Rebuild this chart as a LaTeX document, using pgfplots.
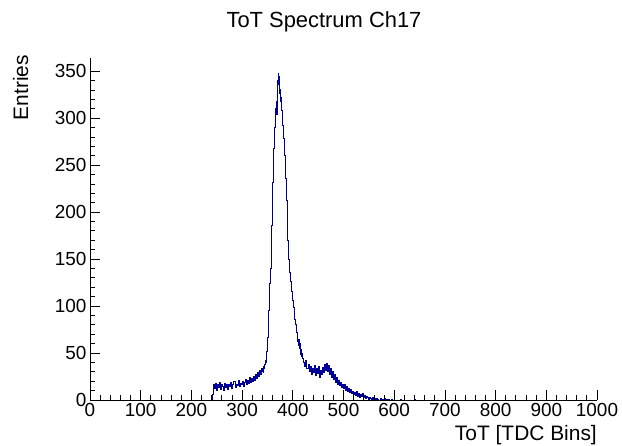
\documentclass[border=0pt]{standalone}
\usepackage{fontspec}
\setmainfont{Liberation Sans}
\usepackage{pgfplots}
\usepackage{pgfplotstable}
\pgfplotsset{compat=1.18}
\definecolor{rootblue}{RGB}{0,0,153}

% ToT histogram (1-bin steps round the peak, 2-bin elsewhere)
\pgfplotstableread{
x y
0 0
240 0
242 6
244 17
246 12
248 18
250 10
252 16
254 13
256 19
258 11
260 17
262 14
264 10
266 18
268 13
270 16
272 11
274 17
276 14
278 19
280 12
282 16
284 20
286 13
288 17
290 15
292 21
294 14
296 18
298 16
300 20
302 14
304 19
306 22
308 16
310 21
312 18
314 24
316 19
318 23
320 20
322 25
324 21
326 27
328 23
330 29
332 25
334 31
336 27
338 33
340 30
341 34
342 29
343 36
344 33
345 38
346 42
347 40
348 47
349 52
350 58
351 66
352 80
353 95
354 108
355 124
356 140
357 162
358 186
359 212
360 232
361 252
362 268
363 281
364 290
365 302
366 310
367 318
368 304
369 332
370 340
371 348
372 336
373 344
374 326
375 330
376 318
377 322
378 308
379 300
380 292
381 286
382 278
383 272
384 260
385 248
386 236
387 222
388 212
389 190
390 170
391 156
392 150
393 142
394 136
395 130
396 126
397 120
398 116
399 112
400 106
401 102
402 98
403 90
404 86
405 84
406 80
407 78
408 72
409 70
410 62
411 58
412 64
413 55
414 60
415 52
416 48
417 54
418 46
419 50
420 44
422 40
424 36
426 42
428 33
430 38
432 30
434 36
436 27
438 34
440 29
442 37
444 26
446 33
448 28
450 36
452 24
454 31
456 27
458 35
460 29
462 38
464 31
466 39
468 30
470 37
472 27
474 33
476 24
478 30
480 22
482 27
484 19
486 24
488 17
490 21
492 15
494 19
496 13
498 17
500 12
502 16
504 10
506 14
508 9
510 12
512 8
514 11
516 7
518 9
520 6
522 8
524 5
526 9
528 4
530 7
532 3
534 6
536 4
538 7
540 3
542 5
544 2
546 4
548 3
550 1
552 3
554 2
556 1
558 3
560 1
562 2
564 0
566 2
568 1
570 0
572 2
574 1
576 0
578 1
580 2
582 0
584 1
586 0
588 1
590 0
594 1
596 0
612 1
614 0
640 1
642 0
1000 0
}\tot

\begin{document}
\begin{tikzpicture}
\begin{axis}[
  at={(0,0)}, anchor=south west,
  scale only axis, width=507bp, height=342bp,
  xmin=0, xmax=1000, ymin=0, ymax=364,
  axis x line*=bottom, axis y line*=left,
  axis on top,
  xtick distance=100, minor x tick num=4,
  ytick={0,50,...,350}, minor y tick num=4,
  tick align=inside,
  major tick length=10bp, minor tick length=5bp,
  tick style={black, line width=0.8pt},
  axis line style={black, line width=1pt},
  ticklabel style={font=\fontsize{19}{22}\selectfont},
  /pgf/number format/assume math mode=true,
  /pgf/number format/1000 sep={},
  title={ToT Spectrum Ch17},
  title style={at={(axis description cs:0.4615,1.073)}, anchor=base,
    font=\fontsize{22}{26}\selectfont, inner sep=0pt},
  xlabel={ToT [TDC Bins]},
  xlabel style={at={(axis description cs:1,-0.117)}, anchor=base east,
    font=\fontsize{21}{24}\selectfont, inner sep=0pt},
  ylabel={Entries},
  ylabel style={at={(axis description cs:-0.122,1.009)}, anchor=base east,
    font=\fontsize{21}{24}\selectfont, inner sep=0pt},
]
\addplot[const plot, rootblue, line width=1pt] table {\tot};
\end{axis}
\pgfresetboundingbox
\path (-90bp,-46bp) rectangle (532bp,400bp);
\end{tikzpicture}
\end{document}
